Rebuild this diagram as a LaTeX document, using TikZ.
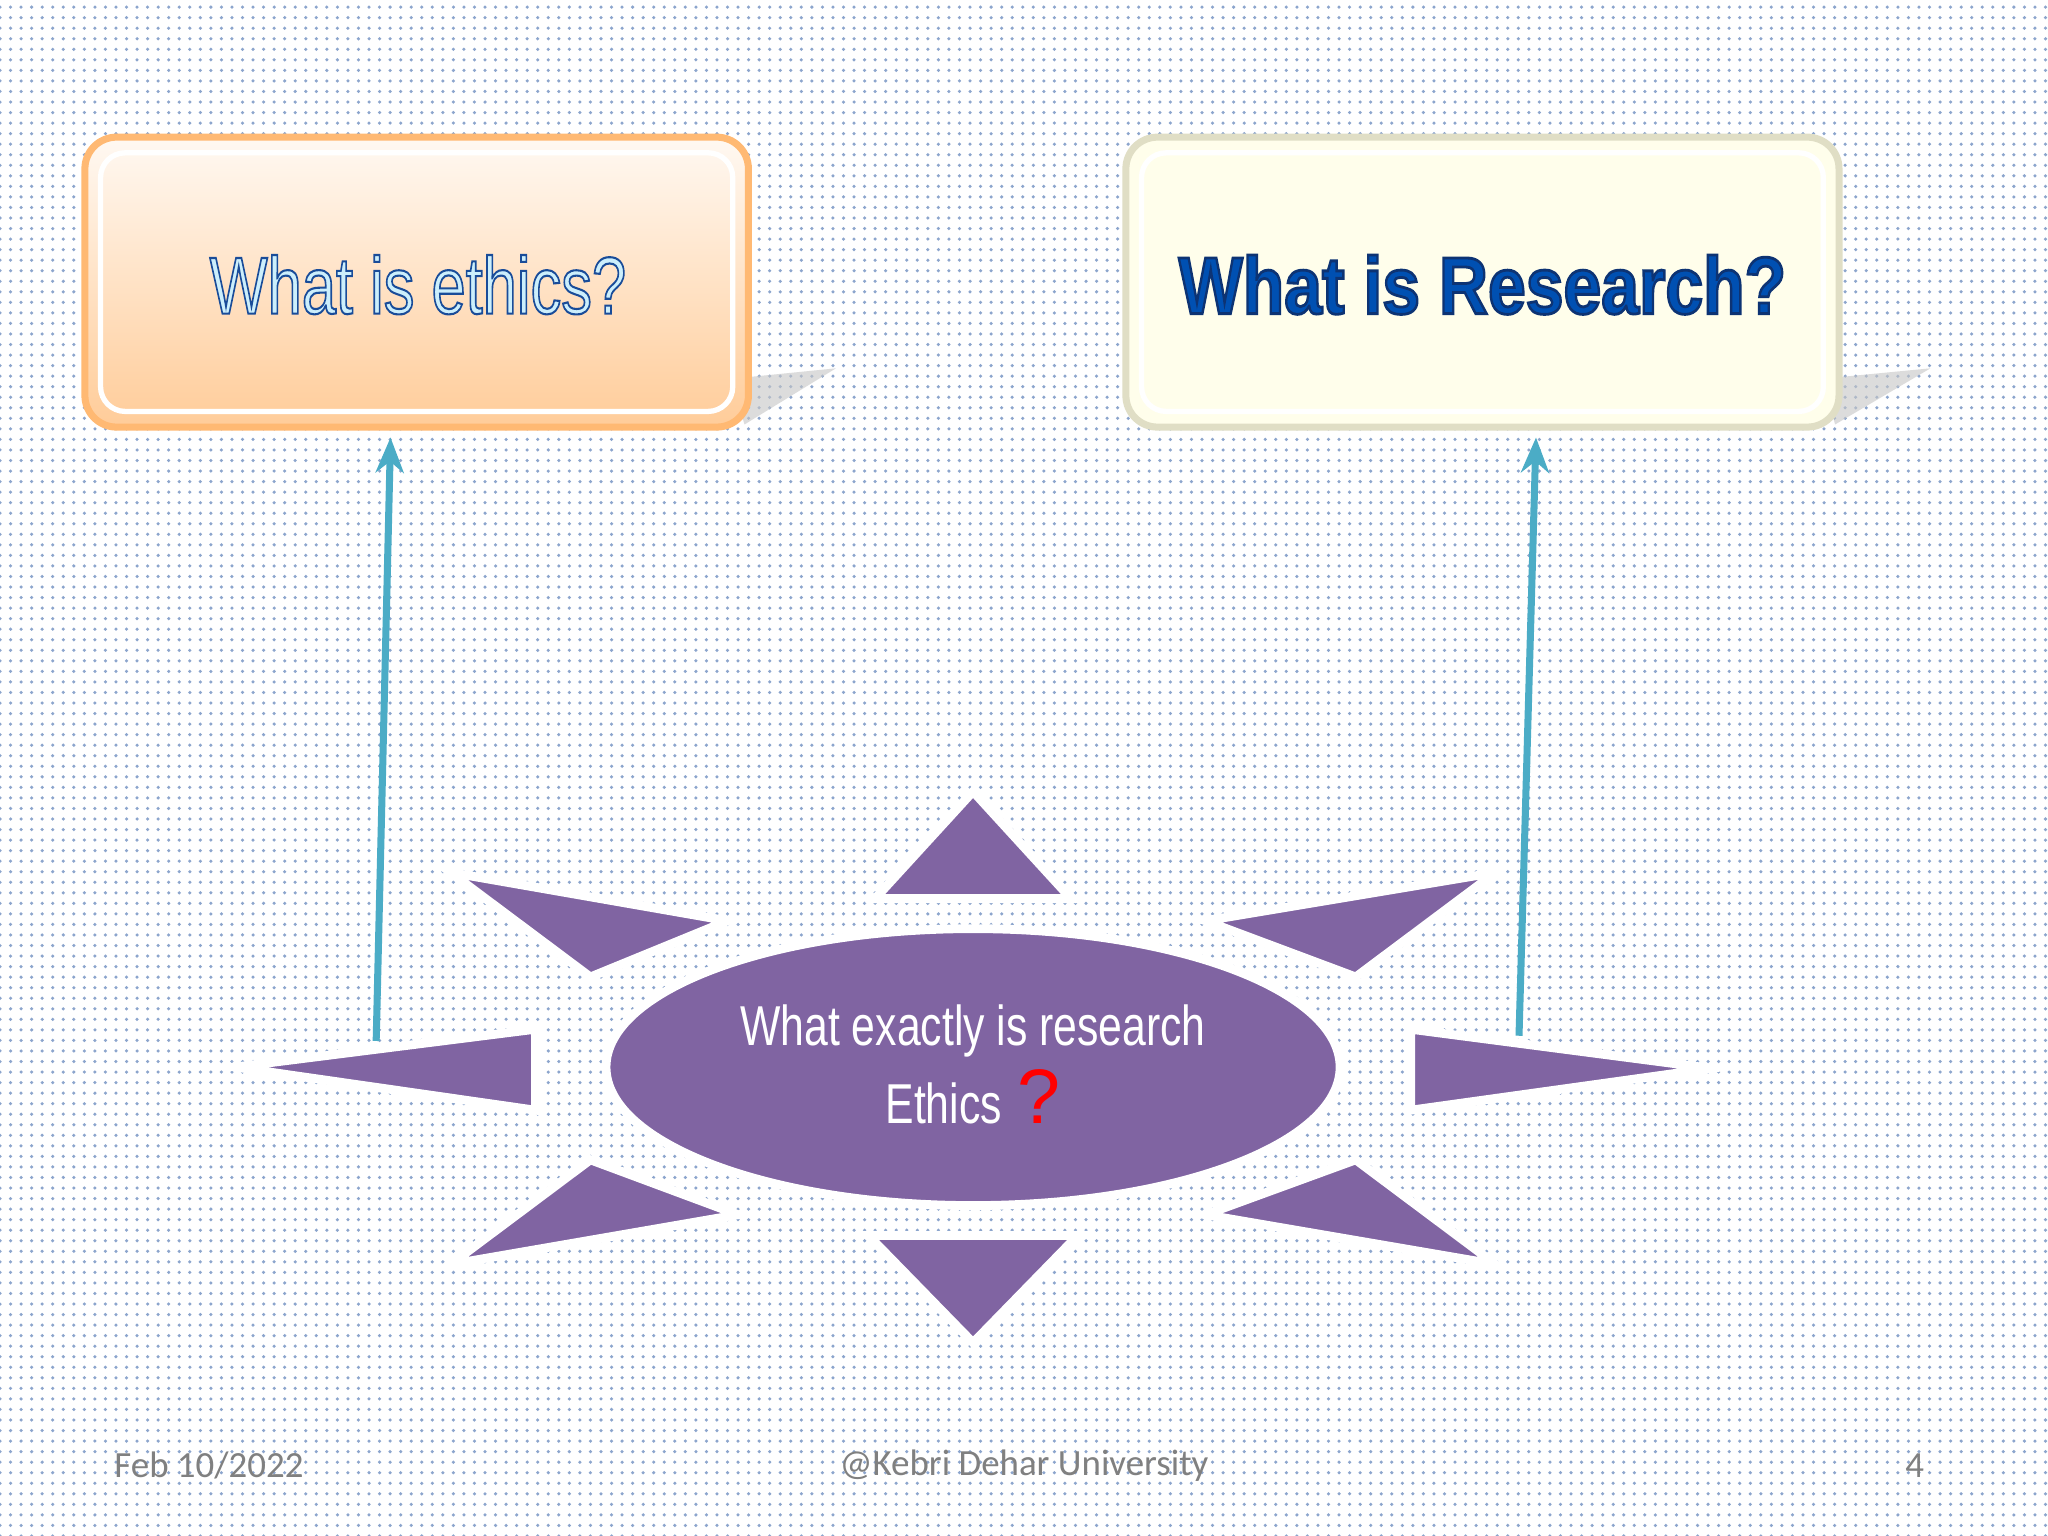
\documentclass[tikz,border=0pt]{standalone}
\usepackage{fontspec}
\setmainfont{Liberation Sans}
\newfontfamily\footfont{Carlito}
\usetikzlibrary{patterns,arrows.meta}
\definecolor{purp}{HTML}{8064A2}
\definecolor{arr}{HTML}{4BACC6}
\definecolor{dotc}{HTML}{5B7FB8}
\begin{document}
\begin{tikzpicture}[x=0.013061cm,y=-0.013061cm,
  tri/.style={fill=purp,draw=white,line width=2.5pt,line join=miter},
  conn/.style={draw=arr,line width=2pt,-{Stealth[length=10pt,width=8pt]}},
  foot/.style={text=gray,font=\footfont\fontsize{10.5pt}{12pt}\selectfont}]
\useasboundingbox (0,0) rectangle (1568,1176);
\fill[white] (0,0) rectangle (1568,1176);
\fill[pattern=dots,pattern color=dotc!70] (0,0) rectangle (1568,1176);
% shadows
\fill[gray!45,opacity=0.6] (560,290) -- (640,282) -- (570,325) -- cycle;
\fill[gray!45,opacity=0.6] (1395,290) -- (1478,282) -- (1405,325) -- cycle;
% boxes
\path[draw=orange!55,line width=2pt,rounded corners=9pt,top color=orange!5,bottom color=orange!40] (65,105) rectangle (573,327);
\draw[white,line width=1.5pt,rounded corners=7pt] (77,117) rectangle (561,315);
\path[draw=yellow!30!gray!40,line width=2pt,rounded corners=9pt,fill=yellow!8] (862,105) rectangle (1408,327);
\draw[white,line width=1.5pt,rounded corners=7pt] (874,117) rectangle (1396,315);
\node (e) at (320,218) {\fontsize{23pt}{26pt}\selectfont\color{cyan!20}\special{pdf:literal 2 Tr 0.6 w 0.1 0.3 0.6 RG}\scalebox{0.76}[1]{What is ethics?}\special{pdf:literal 0 Tr}};
\node (r) at (1135,218) {\fontsize{23pt}{26pt}\selectfont\bfseries\color{blue!55!cyan!70!black}\special{pdf:literal 2 Tr 0.8 w 0.05 0.2 0.45 RG}\scalebox{0.84}[1]{What is Research?}\special{pdf:literal 0 Tr}};
\coordinate (t1) at (299,335);
\coordinate (t2) at (1176,335);
\coordinate (s1) at (288,797);
\coordinate (s2) at (1163,793);
% triangles
\draw[tri] (670,688) -- (745,606) -- (820,688) -- cycle;
\draw[tri] (665,946) -- (825,946) -- (745,1028) -- cycle;
\draw[tri] (180,817) -- (410,788) -- (410,850) -- cycle;
\draw[tri] (1310,818) -- (1080,788) -- (1080,850) -- cycle;
\draw[tri] (345,668) -- (557,705) -- (452,748) -- cycle;
\draw[tri] (1145,668) -- (923,705) -- (1038,748) -- cycle;
\draw[tri] (345,968) -- (452,888) -- (565,930) -- cycle;
\draw[tri] (1145,968) -- (1038,888) -- (923,930) -- cycle;
\fill[purp,draw=white,line width=2.5pt] (745,817) ellipse [x radius=281,y radius=106];
\node[align=center,text=white,font=\fontsize{16pt}{20pt}\selectfont] (c) at (745,815)
  {\scalebox{0.76}[1]{What exactly is research}\\[2pt]\scalebox{0.76}[1]{Ethics}\ \textcolor{red}{\fontsize{22pt}{20pt}\selectfont ?}};
\draw[conn] (s1) -- (t1);
\draw[conn] (s2) -- (t2);
\node[foot] (f1) at (160,1122) {Feb 10/2022};
\node[foot] (f2) at (784,1122) {@Kebri Dehar University};
\node[foot] (f3) at (1466,1122) {4};
\end{tikzpicture}
\end{document}
